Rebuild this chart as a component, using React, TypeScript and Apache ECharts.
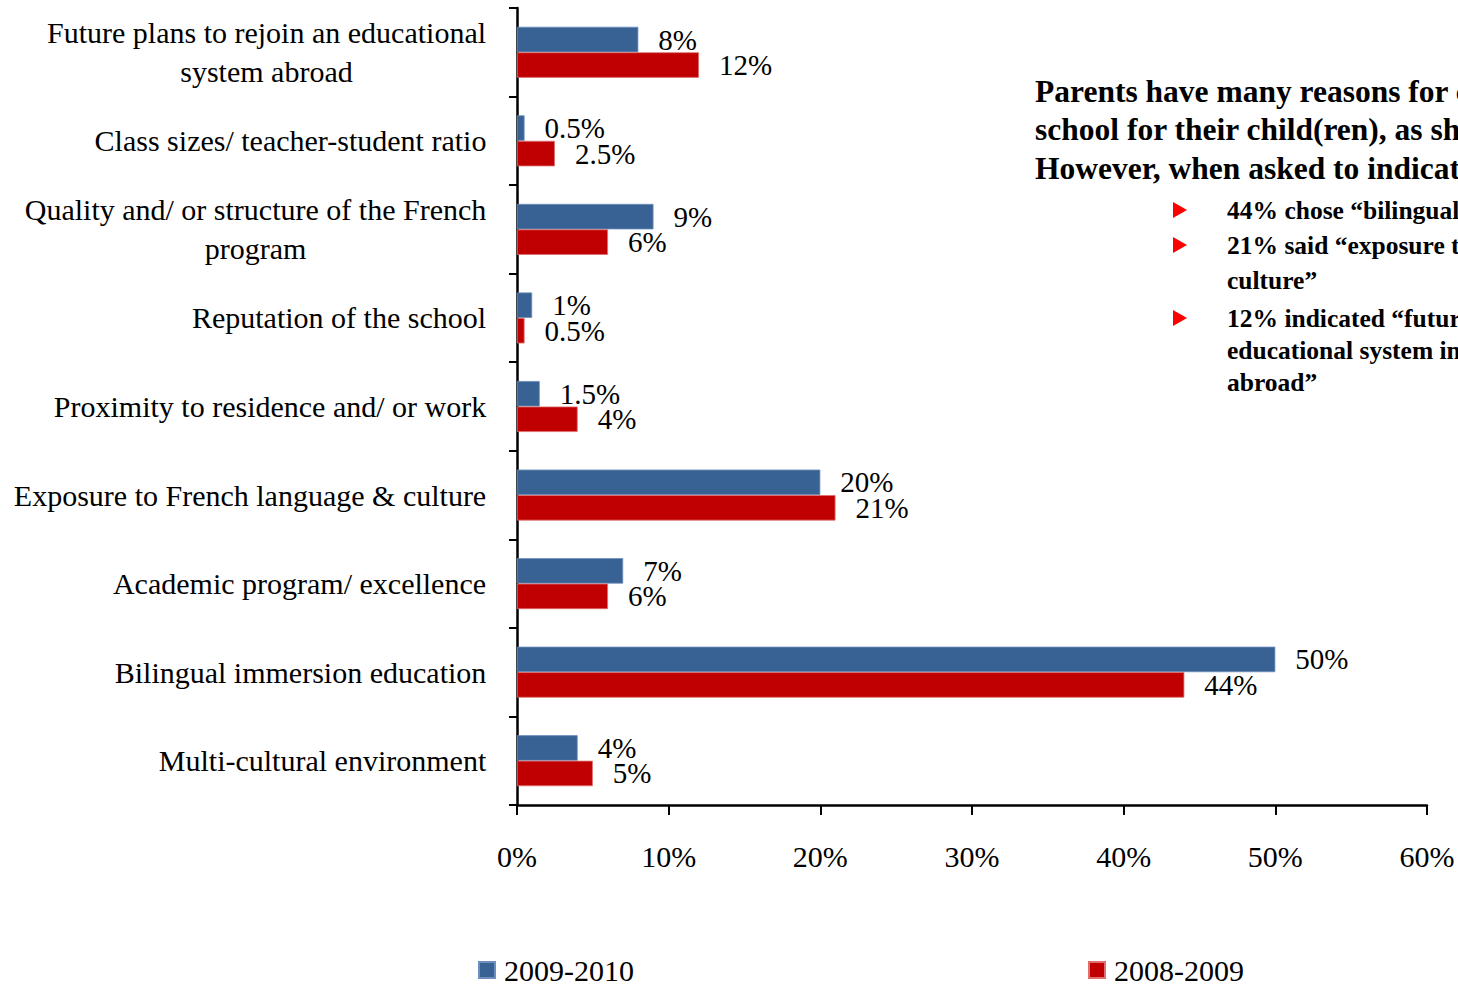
import React, { useEffect, useRef } from 'react';
import * as echarts from 'echarts';

const categories = [
  'Future plans to rejoin an educational\nsystem abroad',
  'Class sizes/ teacher-student ratio',
  'Quality and/ or structure of the French\nprogram',
  'Reputation of the school',
  'Proximity to residence and/ or work',
  'Exposure to French language & culture',
  'Academic program/ excellence',
  'Bilingual immersion education',
  'Multi-cultural environment',
];
const seriesNames = ['2009-2010', '2008-2009'];
const values20092010 = [8, 0.5, 9, 1, 1.5, 20, 7, 50, 4];
const values20082009 = [12, 2.5, 6, 0.5, 4, 21, 6, 44, 5];
const xMin = 0;
const xMax = 60;
const xStep = 10;

const titleLines = [
  'Parents have many reasons for choosing the',
  'school for their child(ren), as shown above.',
  'However, when asked to indicate the main reason:',
];
const bullets = [
  ['44% chose “bilingual immersion education”'],
  ['21% said “exposure to French language &', 'culture”'],
  ['12% indicated “future plans to rejoin an', 'educational system in France or', 'abroad”'],
];

const FONT = '"Liberation Serif", "Times New Roman", serif';
const BLUE = '#386293';
const RED = '#C00000';

function measure(text: string, font: string): number {
  const c = document.createElement('canvas').getContext('2d');
  if (!c) return text.length * 14;
  c.font = font;
  return c.measureText(text).width;
}

export default function App() {
  const ref = useRef<HTMLDivElement>(null);
  useEffect(() => {
    if (!ref.current) return;
    const chart = echarts.init(ref.current, undefined, { renderer: 'svg' });
    const catFontSize = 30;
    const rich: Record<string, any> = {};
    categories.forEach((c, i) => {
      const w = Math.max(...c.split('\n').map((l) => measure(l, `${catFontSize}px ${FONT}`)));
      rich['c' + i] = {
        width: Math.ceil(w) + 1,
        align: 'center',
        fontSize: catFontSize,
        fontFamily: FONT,
        color: '#000',
        lineHeight: 39,
      };
    });

    const graphics: any[] = [];
    graphics.push({
      type: 'text',
      left: 1035,
      top: 72,
      style: {
        text: titleLines.join('\n'),
        font: `bold 31.5px ${FONT}`,
        fill: '#000',
        lineHeight: 38.5,
      },
    });
    const bulletYs = [[210], [245, 280], [318, 350, 382]];
    bullets.forEach((lines, bi) => {
      const y0 = bulletYs[bi][0];
      graphics.push({
        type: 'polygon',
        shape: { points: [[1173, y0 - 8], [1187, y0], [1173, y0 + 8]] },
        style: { fill: '#FF0000' },
      });
      lines.forEach((l, li) => {
        graphics.push({
          type: 'text',
          x: 1227,
          y: bulletYs[bi][li],
          style: {
            text: l,
            font: `bold 25.5px ${FONT}`,
            fill: '#000',
            textVerticalAlign: 'middle',
            verticalAlign: 'middle',
          },
        });
      });
    });

    const labelStyle = {
      show: true,
      position: 'right',
      distance: 20,
      formatter: (p: any) => p.value + '%',
      fontSize: 29,
      fontFamily: FONT,
      color: '#000',
    };

    const legendCommon = {
      top: 955,
      padding: 0,
      itemWidth: 16,
      itemHeight: 16,
      icon: 'rect',
      textStyle: {
        fontSize: 30,
        fontFamily: FONT,
        color: '#000',
        lineHeight: 30,
        padding: [0, 0, 0, 4],
      },
    };

    chart.setOption({
      animation: false,
      backgroundColor: '#ffffff',
      grid: { left: 517, right: 31, top: 8, bottom: 180, containLabel: false },
      legend: [
        { ...legendCommon, data: [seriesNames[0]], left: 478 },
        { ...legendCommon, data: [seriesNames[1]], left: 1088 },
      ],
      xAxis: {
        type: 'value',
        min: xMin,
        max: xMax,
        interval: xStep,
        axisLine: { show: true, lineStyle: { color: '#000', width: 2.5 } },
        axisTick: { show: true, length: 10, lineStyle: { color: '#000', width: 2 } },
        splitLine: { show: false },
        axisLabel: {
          formatter: '{value}%',
          fontSize: 30,
          fontFamily: FONT,
          color: '#000',
          margin: 36,
        },
      },
      yAxis: {
        type: 'category',
        data: categories,
        inverse: true,
        axisLine: { show: true, lineStyle: { color: '#000', width: 2.5 } },
        axisTick: { show: true, length: 8, lineStyle: { color: '#000', width: 2 } },
        axisLabel: {
          margin: 30,
          formatter: (v: string, i: number) =>
            v
              .split('\n')
              .map((l) => `{c${i}|${l}}`)
              .join('\n'),
          rich,
        },
      },
      series: [
        {
          name: seriesNames[0],
          type: 'bar',
          data: values20092010,
          barWidth: 25.5,
          barGap: '0%',
          itemStyle: { color: BLUE, borderColor: '#6d8fbf', borderWidth: 0.8 },
          label: labelStyle,
        },
        {
          name: seriesNames[1],
          type: 'bar',
          data: values20082009,
          barWidth: 25.5,
          barGap: '0%',
          itemStyle: { color: RED, borderColor: '#e07070', borderWidth: 0.8 },
          label: labelStyle,
        },
      ],
      graphic: graphics,
    });
    return () => chart.dispose();
  }, []);
  return (
    <div
      ref={ref}
      style={{ position: 'absolute', left: 0, top: 0, width: 1458, height: 985 }}
    />
  );
}
